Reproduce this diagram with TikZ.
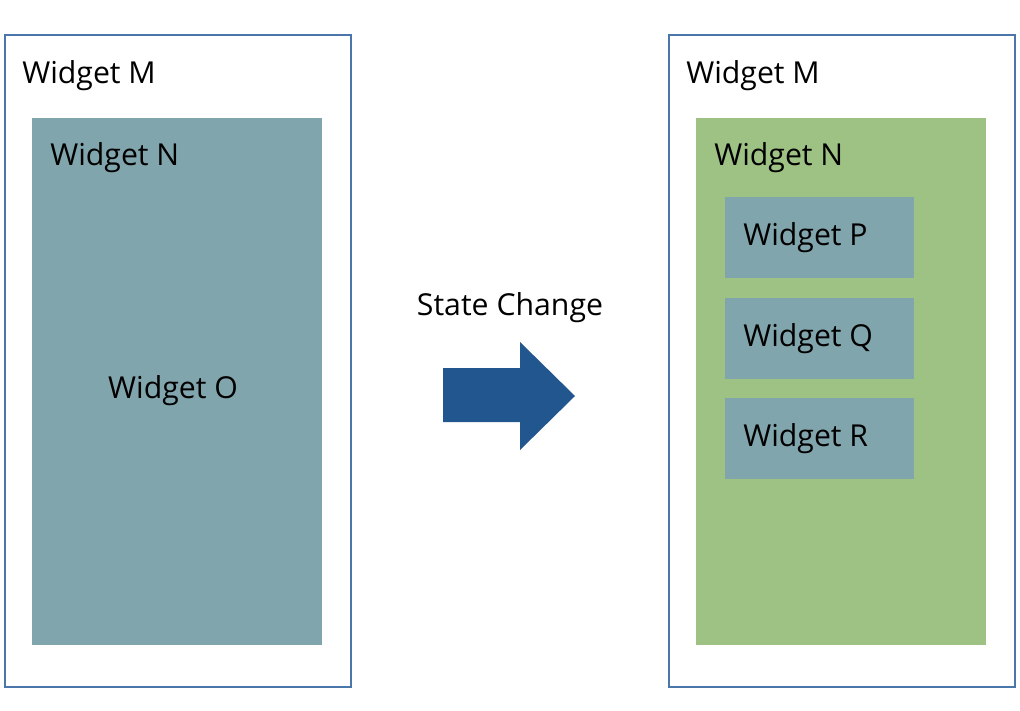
\documentclass[tikz,border=0pt]{standalone}
\usepackage{fontspec}
\setmainfont{Open Sans}
\usepackage{tikz}
\usetikzlibrary{positioning}
\usepackage{xcolor}

\definecolor{frameblue}{HTML}{4A76AA}
\definecolor{slate}{HTML}{81A5AD}
\definecolor{leaf}{HTML}{9EC284}
\definecolor{arrowblue}{HTML}{22568F}

\begin{document}
\begin{tikzpicture}[
  every node/.style={font=\fontsize{21.5}{26}\selectfont},
  outer/.style={draw=frameblue, line width=1.3pt, fill=white, anchor=north west, minimum width=8.65cm, minimum height=16.3cm, inner sep=0pt},
  inner/.style={anchor=north west, minimum width=7.25cm, minimum height=13.175cm, inner sep=0pt},
  child/.style={fill=slate, anchor=north west, minimum width=4.725cm, minimum height=2.025cm, inner sep=0pt},
  lbl/.style={anchor=west, inner sep=0pt}
]
\useasboundingbox (0,0) rectangle (25.5,-17.75);

% before
\node [outer] (mL) at (0.1,-0.85) {};
\node [inner, fill=slate] (nL) at (0.8,-2.95) {};
\node [lbl] (mLtxt) at ([xshift=0.45cm, yshift=-1.03cm]mL.north west) {Widget M};
\node [lbl] (nLtxt) at ([xshift=0.45cm, yshift=-1.0cm]nL.north west) {Widget N};
\node (oL) at (4.325,-9.76) {Widget O};

% after
\node [outer] (mR) at (16.7,-0.85) {};
\node [inner, fill=leaf] (nR) at (17.4,-2.95) {};
\node [lbl] (mRtxt) at ([xshift=0.45cm, yshift=-1.03cm]mR.north west) {Widget M};
\node [lbl] (nRtxt) at ([xshift=0.45cm, yshift=-1.0cm]nR.north west) {Widget N};
\node [child] (p) at (18.125,-4.925) {};
\node [child, below=0.475cm of p.south west, anchor=north west] (q) {};
\node [child, below=0.475cm of q.south west, anchor=north west] (r) {};
\node [lbl] at ([xshift=0.45cm, yshift=0.0cm]p.west) {Widget P};
\node [lbl] at ([xshift=0.45cm, yshift=0.0cm]q.west) {Widget Q};
\node [lbl] at ([xshift=0.45cm, yshift=0.0cm]r.west) {Widget R};

% transition
\node (change) at (12.75,-7.7) {State Change};
\fill [arrowblue] (11.075,-9.2) -- (13.0,-9.2) -- (13.0,-8.55) -- (14.375,-9.9)
  -- (13.0,-11.25) -- (13.0,-10.55) -- (11.075,-10.55) -- cycle;
\end{tikzpicture}
\end{document}
